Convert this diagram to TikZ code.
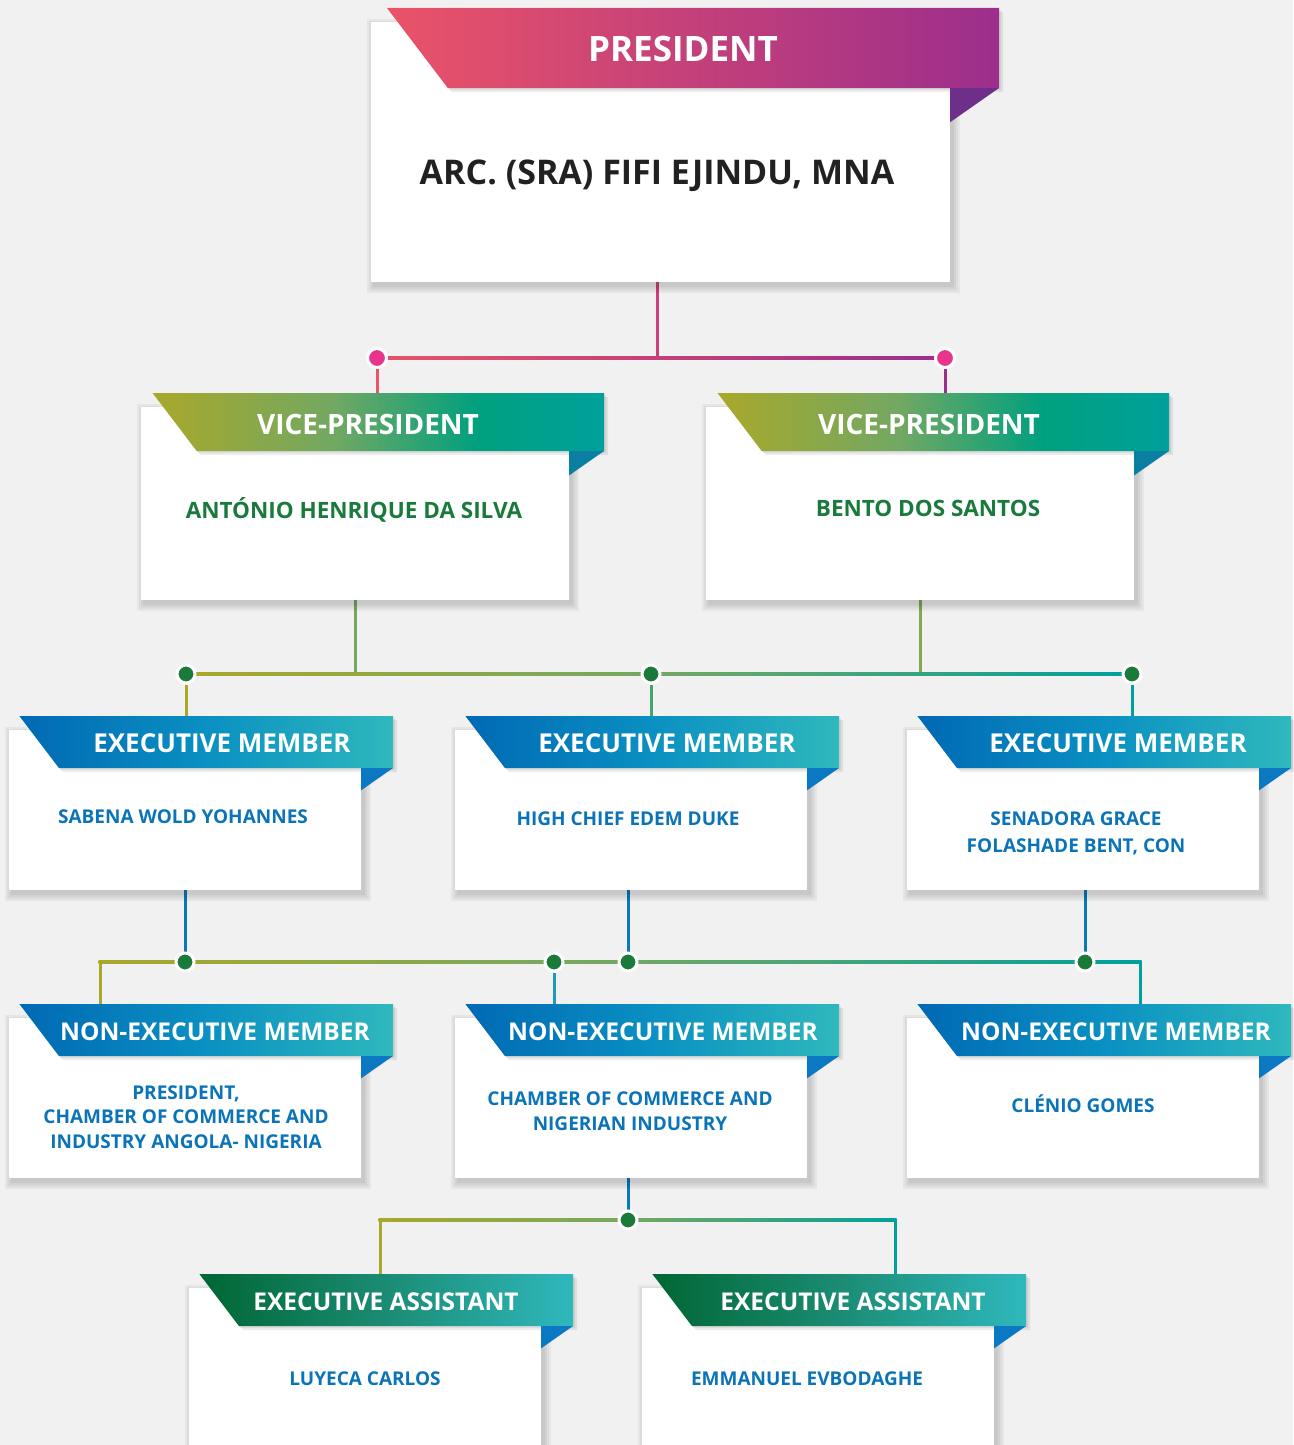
\documentclass[tikz,border=0pt]{standalone}
\usepackage{fontspec}
\setmainfont{Open Sans}
\usetikzlibrary{calc}

\definecolor{pagebg}{HTML}{F1F1F1}
\definecolor{presL}{HTML}{EA5368}
\definecolor{presM}{HTML}{CC417A}
\definecolor{presR}{HTML}{9C2E8C}
\definecolor{presfoldc}{HTML}{6E2F8B}
\definecolor{olivec}{HTML}{A9A82A}
\definecolor{vpmidc}{HTML}{72A862}
\definecolor{jadec}{HTML}{00A07F}
\definecolor{vptealc}{HTML}{00A09C}
\definecolor{vpfoldc}{HTML}{0A7FA2}
\definecolor{exL}{HTML}{0069B4}
\definecolor{exM}{HTML}{0A90C2}
\definecolor{exR}{HTML}{2FB8BD}
\definecolor{exfoldc}{HTML}{0A78C3}
\definecolor{asL}{HTML}{006633}
\definecolor{asM}{HTML}{1B8C74}
\definecolor{namegreen}{HTML}{1A7A3C}
\definecolor{nameblue}{HTML}{0B74B9}
\definecolor{dotgreen}{HTML}{1A7A3A}
\definecolor{dotpink}{HTML}{E8348A}
\definecolor{linkblue}{HTML}{0B78B8}
\definecolor{linkaqua}{HTML}{1E9BB5}

\pgfdeclarehorizontalshading{presgrad}{100bp}{color(0bp)=(presL); color(25bp)=(presL); color(75bp)=(presR); color(100bp)=(presR)}
\pgfdeclarehorizontalshading{vpgrad}{100bp}{color(0bp)=(olivec); color(25bp)=(olivec); color(45bp)=(vpmidc); color(61bp)=(jadec); color(75bp)=(vptealc); color(100bp)=(vptealc)}
\pgfdeclarehorizontalshading{busgrad}{100bp}{color(0bp)=(olivec); color(25bp)=(olivec); color(50bp)=(vpmidc); color(75bp)=(vptealc); color(100bp)=(vptealc)}
\pgfdeclarehorizontalshading{exgrad}{100bp}{color(0bp)=(exL); color(25bp)=(exL); color(50bp)=(exM); color(75bp)=(exR); color(100bp)=(exR)}
\pgfdeclarehorizontalshading{asgrad}{100bp}{color(0bp)=(asL); color(25bp)=(asL); color(50bp)=(asM); color(75bp)=(exR); color(100bp)=(exR)}

\pgfdeclarelayer{bg}
\pgfsetlayers{bg,main}

\newcommand{\orgbox}[8]{%
  \foreach \s in {1,3,5,7}
    \fill[black, opacity=.045] (#2+3-\s,#3+4-\s) rectangle (#4+3+\s,#5+4+\s);
  \node[card, anchor=north west, minimum width={(#4-#2)*1pt}, minimum height={(#5-#3)*1pt}] (#1) at (#2,#3) {};
  \foreach \s in {2,4}
    \fill[black, opacity=.07] (#2+0.2*#6+\s,#3-14+\s) -- (#4+#7+\s,#3-14+\s) -- (#4+#7+\s,#3-14+#6+\s) -- (#2+0.96*#6+\s,#3-14+#6+\s) -- cycle;
  \path[#8 ribbon] (#2+0.2*#6,#3-14) -- (#4+#7,#3-14) -- (#4+#7,#3-14+#6) -- (#2+0.96*#6,#3-14+#6) -- cycle;
  \fill[#8 fold] (#4,#3-14+#6) -- (#4+#7,#3-14+#6) -- (#4,#3-14+#6+0.7*#7) -- cycle;
}

\begin{document}
\begin{tikzpicture}[x=1pt, y=-1pt,
  card/.style={fill=white, inner sep=0},
  pres ribbon/.style={shading=presgrad},
  pres fold/.style={fill=presfoldc},
  vp ribbon/.style={shading=vpgrad},
  vp fold/.style={fill=vpfoldc},
  ex ribbon/.style={shading=exgrad},
  ex fold/.style={fill=exfoldc},
  as ribbon/.style={shading=asgrad},
  as fold/.style={fill=exfoldc},
  ttl/.style={text=white, anchor=base, inner sep=0},
  who/.style={text=nameblue, anchor=base, inner sep=0, align=center,
    font=\fontsize{19}{24.5}\selectfont\bfseries},
  link/.style={line width=3pt},
  pdot/.style={circle, fill=dotpink, draw=white, line width=3pt, minimum size=19pt, inner sep=0},
  gdot/.style={circle, fill=dotgreen, draw=white, line width=3pt, minimum size=18pt, inner sep=0}]

\begin{pgfonlayer}{bg}
  \fill[pagebg] (0,0) rectangle (1293,1445);
\end{pgfonlayer}
\useasboundingbox (0,0) rectangle (1293,1445);

\orgbox{pres}{371}{22}{950}{282}{80}{49}{pres}
\orgbox{vpA}{141}{407}{569}{600}{58}{35}{vp}
\orgbox{vpB}{706}{407}{1134}{600}{58}{35}{vp}
\orgbox{exA}{9}{730}{361}{890}{52}{32}{ex}
\orgbox{exB}{455}{730}{807}{890}{52}{32}{ex}
\orgbox{exC}{907}{730}{1259}{890}{52}{32}{ex}
\orgbox{nxA}{9}{1018}{361}{1178}{52}{32}{ex}
\orgbox{nxB}{455}{1018}{807}{1178}{52}{32}{ex}
\orgbox{nxC}{907}{1018}{1259}{1178}{52}{32}{ex}
\orgbox{asA}{189}{1288}{541}{1475}{52}{32}{as}
\orgbox{asB}{642}{1288}{994}{1475}{52}{32}{as}

\node[ttl, font=\fontsize{35}{42}\selectfont\bfseries] (presT) at (683,61.5) {PRESIDENT};
\node[ttl, font=\fontsize{28}{34}\selectfont\bfseries] (vpAT) at (368,434) {VICE-PRESIDENT};
\node[ttl, font=\fontsize{28}{34}\selectfont\bfseries] (vpBT) at (929,434) {VICE-PRESIDENT};
\node[ttl, font=\fontsize{26}{32}\selectfont\bfseries] (exAT) at (222,752) {EXECUTIVE MEMBER};
\node[ttl, font=\fontsize{26}{32}\selectfont\bfseries] (exBT) at (667,752) {EXECUTIVE MEMBER};
\node[ttl, font=\fontsize{26}{32}\selectfont\bfseries] (exCT) at (1118,752) {EXECUTIVE MEMBER};
\node[ttl, font=\fontsize{24.5}{30}\selectfont\bfseries] (nxAT) at (215,1040) {NON-EXECUTIVE MEMBER};
\node[ttl, font=\fontsize{24.5}{30}\selectfont\bfseries] (nxBT) at (663,1040) {NON-EXECUTIVE MEMBER};
\node[ttl, font=\fontsize{24.5}{30}\selectfont\bfseries] (nxCT) at (1116,1040) {NON-EXECUTIVE MEMBER};
\node[ttl, font=\fontsize{24.5}{30}\selectfont\bfseries] (asAT) at (386,1310) {EXECUTIVE ASSISTANT};
\node[ttl, font=\fontsize{24.5}{30}\selectfont\bfseries] (asBT) at (853,1310) {EXECUTIVE ASSISTANT};

\node[anchor=base, inner sep=0, text=black!87, font=\fontsize{34}{40}\selectfont\bfseries] (presN) at (657,184) {ARC. (SRA) FIFI EJINDU, MNA};
\node[who, text=namegreen, font=\fontsize{22.5}{28}\selectfont\bfseries] (vpAN) at (354,518) {ANTÓNIO HENRIQUE DA SILVA};
\node[who, text=namegreen, font=\fontsize{22.5}{28}\selectfont\bfseries] (vpBN) at (928,516) {BENTO DOS SANTOS};
\node[who] (exAN) at (183,823) {SABENA WOLD YOHANNES};
\node[who] (exBN) at (628,825) {HIGH CHIEF EDEM DUKE};
\node[who, font=\fontsize{19}{27}\selectfont\bfseries] (exCN) at (1076,852) {SENADORA GRACE\\FOLASHADE BENT, CON};
\node[who] (nxAN) at (186,1148) {PRESIDENT,\\CHAMBER OF COMMERCE AND\\INDUSTRY ANGOLA- NIGERIA};
\node[who] (nxBN) at (630,1130) {CHAMBER OF COMMERCE AND\\NIGERIAN INDUSTRY};
\node[who] (nxCN) at (1083,1112) {CLÉNIO GOMES};
\node[who] (asAN) at (365,1385) {LUYECA CARLOS};
\node[who] (asBN) at (807,1385) {EMMANUEL EVBODAGHE};

\coordinate (pj) at (657,358);
\node[pdot] (pd1) at (377,358) {};
\node[pdot] (pd2) at (945,358) {};

\coordinate (vj1) at (355,674);
\coordinate (vj2) at (920,674);
\node[gdot] (ed1) at (186,674) {};
\node[gdot] (ed2) at (651,674) {};
\node[gdot] (ed3) at (1132,674) {};

\coordinate (nl) at (100,962);
\coordinate (nr) at (1140,962);
\node[gdot] (xd1) at (185,962) {};
\node[gdot] (xd2) at (554,962) {};
\node[gdot] (xd3) at (628,962) {};
\node[gdot] (xd4) at (1085,962) {};

\coordinate (al) at (380,1220);
\coordinate (ar) at (895,1220);
\node[gdot] (ad) at (628,1220) {};

\begin{pgfonlayer}{bg}
  \draw[link, presM] (pj |- pres.south) -- (pj);
  \path[shading=presgrad] ($(pd1)+(0,-1.5)$) rectangle ($(pd2)+(0,1.5)$);
  \draw[link, presL] (pd1) -- (pd1 |- vpA.north);
  \draw[link, presR] (pd2) -- (pd2 |- vpB.north);

  \draw[link, vpmidc] (vj1 |- vpA.south) -- (vj1);
  \draw[link, vpmidc!70!olivec] (vj2 |- vpB.south) -- (vj2);
  \path[shading=busgrad] ($(ed1)+(0,-1.5)$) rectangle ($(ed3)+(0,1.5)$);
  \draw[link, olivec] (ed1) -- (ed1 |- exA.north);
  \draw[link, vpmidc!60!jadec] (ed2) -- (ed2 |- exB.north);
  \draw[link, vptealc] (ed3) -- (ed3 |- exC.north);

  \draw[link, linkblue] (xd1 |- exA.south) -- (xd1);
  \draw[link, linkblue] (xd3 |- exB.south) -- (xd3);
  \draw[link, linkblue] (xd4 |- exC.south) -- (xd4);
  \path[shading=busgrad] ($(nl)+(-1.5,-1.5)$) rectangle ($(nr)+(1.5,1.5)$);
  \draw[link, olivec] (nl) -- (nl |- nxA.north);
  \draw[link, linkaqua] (xd2) -- (xd2 |- nxB.north);
  \draw[link, vptealc] (nr) -- (nr |- nxC.north);

  \draw[link, linkblue] (ad |- nxB.south) -- (ad);
  \path[shading=busgrad] ($(al)+(-1.5,-1.5)$) rectangle ($(ar)+(1.5,1.5)$);
  \draw[link, olivec] (al) -- (al |- asA.north);
  \draw[link, vptealc] (ar) -- (ar |- asB.north);
\end{pgfonlayer}
\end{tikzpicture}
\end{document}
